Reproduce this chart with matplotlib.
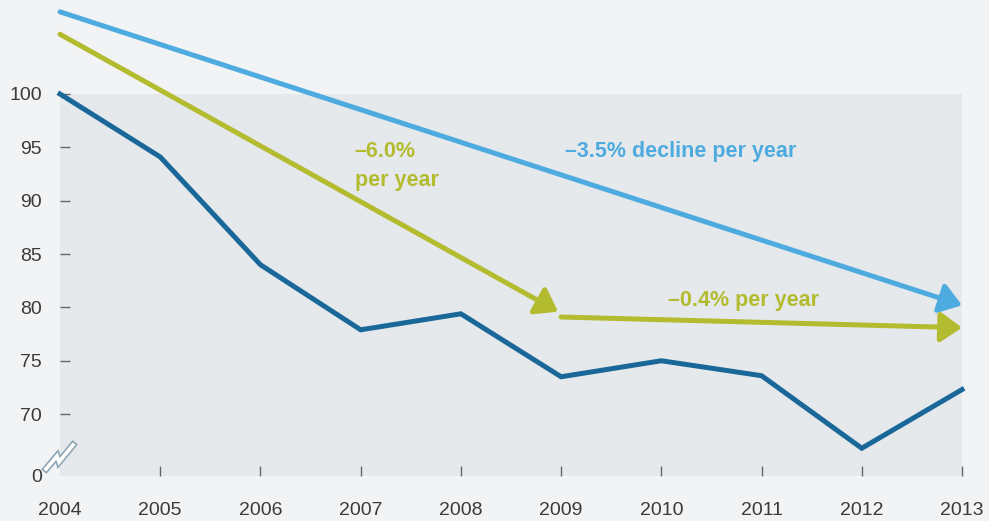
import matplotlib.pyplot as plt
import numpy as np

# --- datos ---
years = [2004, 2005, 2006, 2007, 2008, 2009, 2010, 2011, 2012, 2013]
index_values = [100, 94.1, 84.0, 77.9, 79.4, 73.5, 75.0, 73.6, 66.8, 72.3]

# trend arrows (start/end year, start/end value)
trend_total_x = [2004, 2013]
trend_total_y = [107.7, 80.2]
trend_early_x = [2004, 2008.97]
trend_early_y = [105.6, 79.6]
trend_late_x = [2009, 2013]
trend_late_y = [79.1, 78.1]

y_ticks = [70, 75, 80, 85, 90, 95, 100]
y_bottom = 64.2  # broken axis, labelled "0"

# --- colores ---
bg = "#f2f3f5"
panel = "#e6e9ec"
dark_blue = "#1a6799"
light_blue = "#4eabdf"
green = "#b3bb2f"
text_col = "#3a3a3a"

plt.rcParams["font.family"] = ["Liberation Sans", "DejaVu Sans"]

fig = plt.figure(figsize=(9.89, 5.21), dpi=100, facecolor=bg)
ax = fig.add_axes([60 / 989, 1 - 476 / 521, 902 / 989, 382 / 521])
ax.set_facecolor(panel)

ax.set_xlim(2004, 2013)
ax.set_ylim(y_bottom, 100)

ax.plot(years, index_values, color=dark_blue, lw=3.6, solid_joinstyle="miter",
        clip_on=False, zorder=3)


def arrow(xs, ys, color):
    ax.annotate("", xy=(xs[1], ys[1]), xytext=(xs[0], ys[0]),
                arrowprops=dict(arrowstyle="-|>,head_length=1.0,head_width=0.7",
                                lw=3.6, color=color, mutation_scale=13,
                                shrinkA=0, shrinkB=0),
                annotation_clip=False, zorder=4)


arrow(trend_total_x, trend_total_y, light_blue)
arrow(trend_early_x, trend_early_y, green)
arrow(trend_late_x, trend_late_y, green)

# etiquetas
lab_size = 15.5
ax.text(2006.94, 95.6, "\u20136.0%\nper year", color=green, fontsize=lab_size,
        fontweight="bold", va="top", ha="left", linespacing=1.5)
ax.text(2009.04, 95.6, "\u20133.5% decline per year", color=light_blue,
        fontsize=lab_size, fontweight="bold", va="top", ha="left")
ax.text(2010.07, 81.6, "\u20130.4% per year", color=green, fontsize=lab_size,
        fontweight="bold", va="top", ha="left")

# ejes
for s in ax.spines.values():
    s.set_visible(False)

ax.set_yticks([y_bottom] + y_ticks)
ax.set_yticklabels(["0"] + [str(v) for v in y_ticks])
ax.set_xticks(years)
ax.set_xticklabels([str(y) for y in years])
ax.tick_params(axis="both", direction="in", length=7, width=1, color="#666666",
               labelcolor=text_col, labelsize=14)
ax.tick_params(axis="y", pad=13)
ax.tick_params(axis="x", pad=19)
ax.yaxis.get_major_ticks()[0].tick1line.set_visible(False)
ax.xaxis.get_major_ticks()[0].tick1line.set_visible(False)

# simbolo de eje cortado
zx = np.array([46, 57, 59, 73]) / 989
zy = 1 - np.array([469, 456, 462, 445]) / 521
fig.add_artist(plt.Line2D(zx, zy, color="#8fa6b5", lw=5.0, transform=fig.transFigure,
                          solid_joinstyle="miter", zorder=5))
fig.add_artist(plt.Line2D(zx, zy, color="white", lw=2.6, transform=fig.transFigure,
                          solid_joinstyle="miter", zorder=6))

fig.savefig("out.png", dpi=100, facecolor=bg)
